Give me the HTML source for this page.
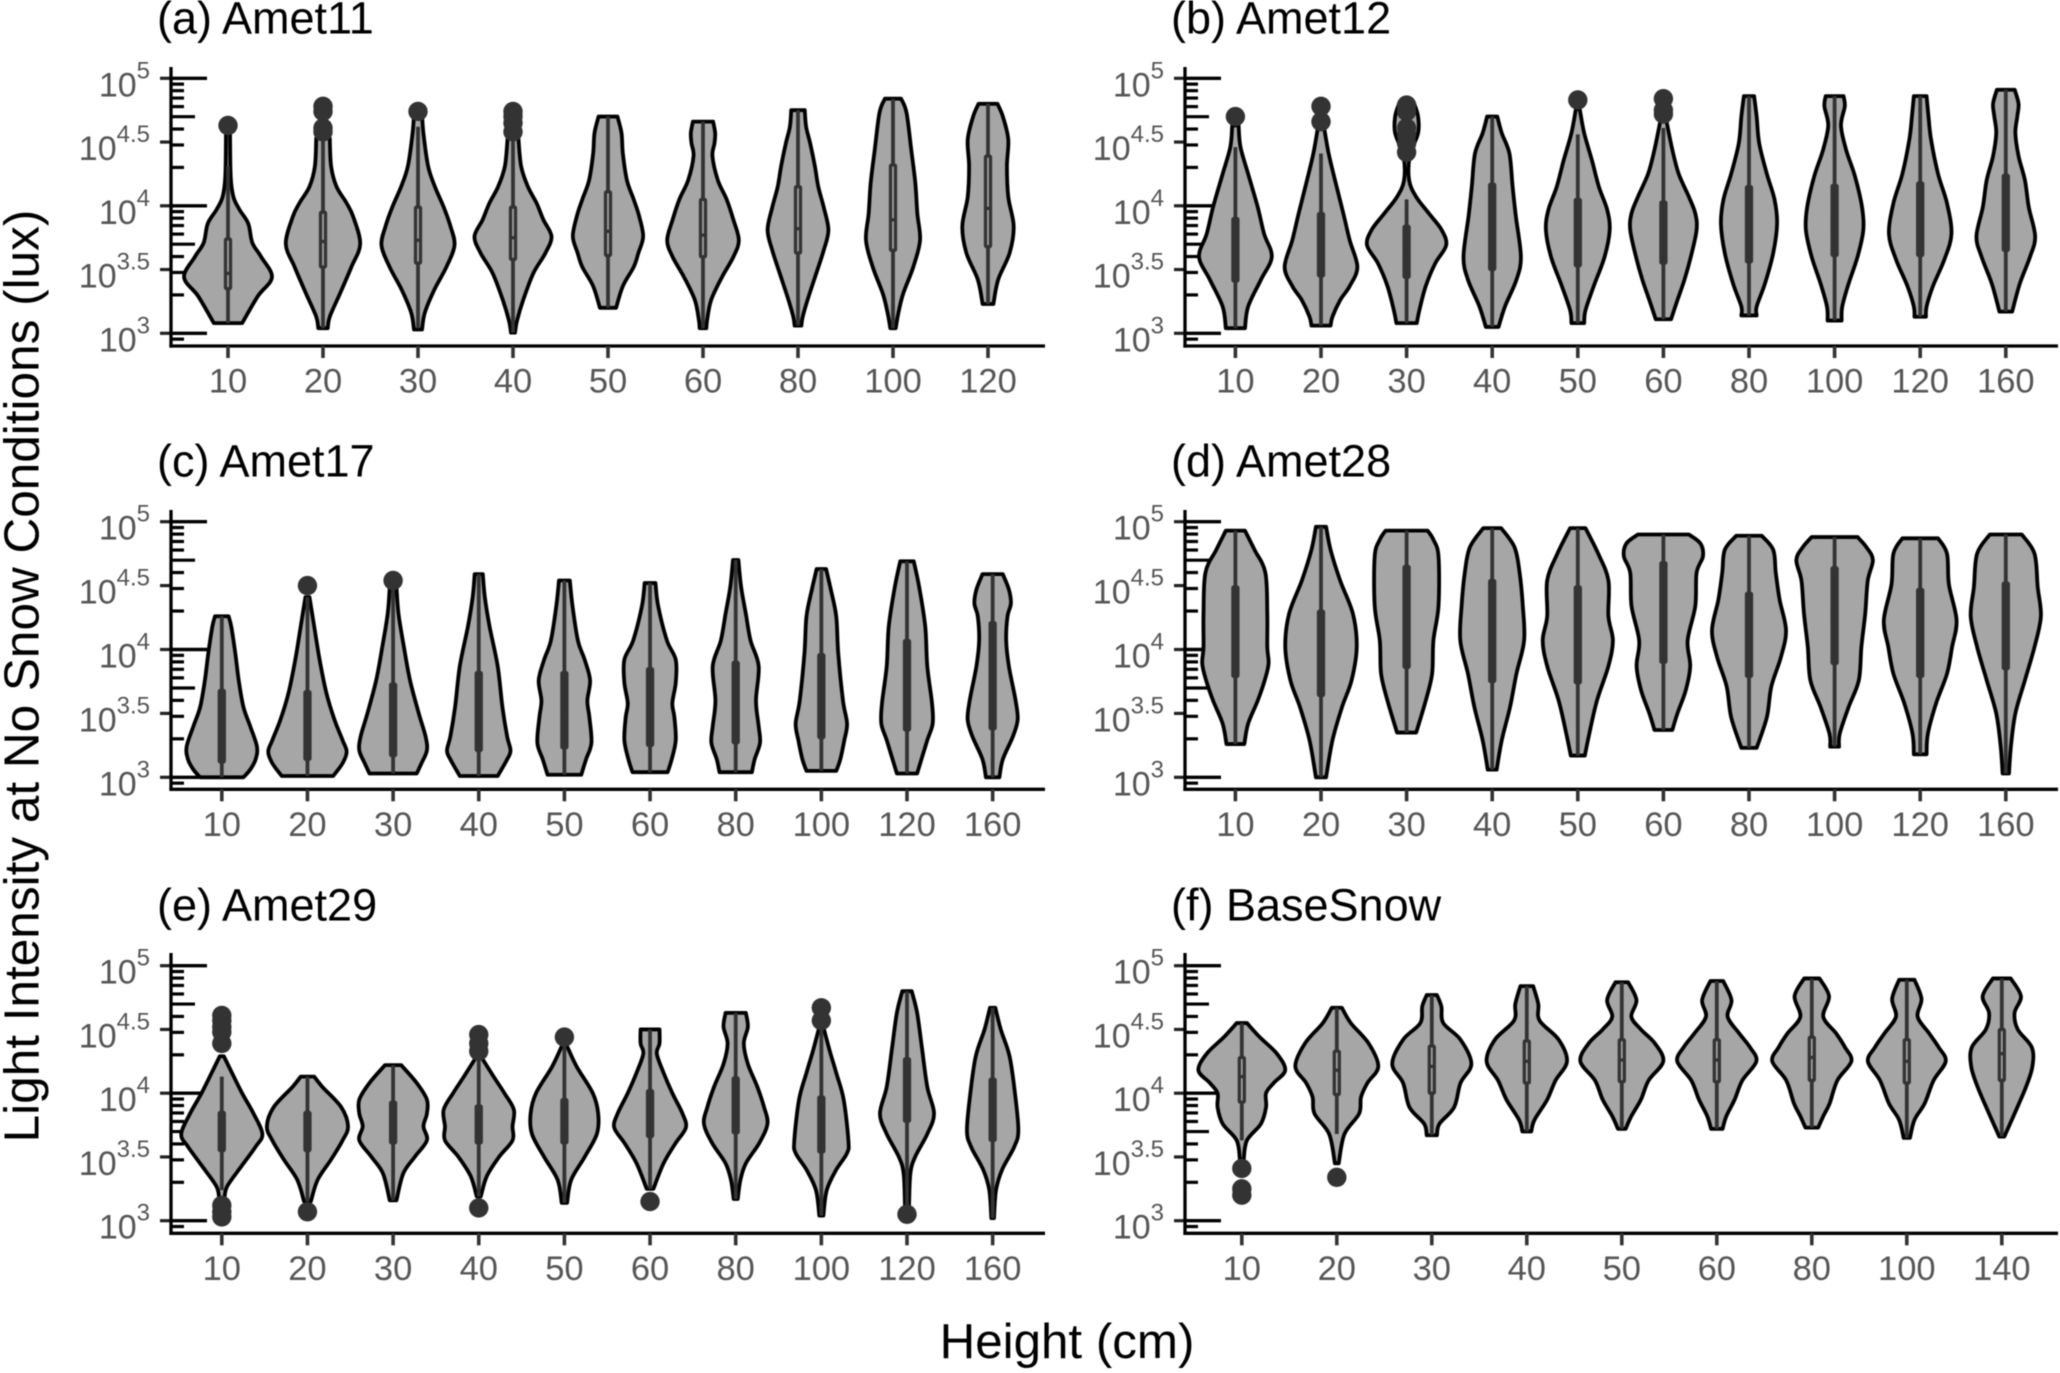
<!DOCTYPE html>
<html lang="en">
<head>
<meta charset="utf-8">
<title>Light intensity violin plots</title>
<style>
html,body{margin:0;padding:0;background:#fff;}
svg{display:block;font-family:"Liberation Sans",Arial,sans-serif;filter:blur(0.55px);}
</style>
</head>
<body>
<svg id="chart" xmlns="http://www.w3.org/2000/svg" width="2060" height="1373" viewBox="0 0 2060 1373">
  <rect x="0" y="0" width="2060" height="1373" fill="#ffffff"/>
  <text transform="translate(38.5,676) rotate(-90)" text-anchor="middle" font-size="49.5" fill="#000">Light Intensity at No Snow Conditions (lux)</text>
  <text x="1067" y="1358" text-anchor="middle" font-size="49.3" fill="#000">Height (cm)</text>
</svg>
<script>
// Panel (a) Amet11
const aHeights=["10","20","30","40","50","60","80","100","120"];
const aDensity=[
[[4.63,3],[4.57,3],[4.23,4],[4.07,8],[3.97,17],[3.86,30],[3.71,36],[3.60,49],[3.44,65],[3.29,44],[3.08,21]],
[[4.53,10],[4.31,12],[4.15,20],[4.02,35],[3.91,45],[3.70,55],[3.52,42],[3.31,25],[3.13,10],[3.04,7]],
[[4.72,6],[4.57,8],[4.31,15],[4.15,25],[3.99,38],[3.84,48],[3.69,54],[3.52,42],[3.34,24],[3.16,10],[3.03,6]],
[[4.53,8],[4.31,12],[4.15,22],[4.02,35],[3.89,45],[3.76,57],[3.63,48],[3.47,30],[3.26,15],[3.10,6],[3.005,3]],
[[4.70,14],[4.57,20],[4.41,22],[4.20,28],[4.05,38],[3.92,46],[3.76,52],[3.63,45],[3.52,38],[3.37,22],[3.20,12]],
[[4.66,15],[4.57,18],[4.49,17],[4.39,14],[4.20,22],[4.05,35],[3.89,45],[3.73,53],[3.60,45],[3.44,28],[3.26,12],[3.10,6],[3.04,5]],
[[4.75,10],[4.62,12],[4.49,18],[4.31,25],[4.15,30],[3.99,38],[3.81,45],[3.65,38],[3.47,27],[3.26,14],[3.13,7],[3.06,5]],
[[4.84,12],[4.73,20],[4.44,27],[4.18,33],[3.94,36],[3.73,40],[3.52,30],[3.31,15],[3.16,8],[3.04,4]],
[[4.80,14],[4.70,22],[4.52,30],[4.31,28],[4.07,30],[3.84,38],[3.63,32],[3.42,15],[3.23,8]]
];
const aBoxes=[
[3.08,3.35,3.47,3.74,4.31],[3.04,3.52,3.72,3.95,4.53],[3.04,3.55,3.73,3.99,4.62],
[3.005,3.58,3.75,3.99,4.53],[3.20,3.61,3.80,4.11,4.70],[3.04,3.60,3.77,4.05,4.66],
[3.06,3.63,3.82,4.15,4.75],[3.04,3.65,3.89,4.32,4.84],[3.23,3.68,3.98,4.39,4.80]
];
const aOutliers=[[4.63],[4.78,4.74,4.61,4.58],[4.74],[4.74,4.70,4.65,4.58],[],[],[],[],[]];

// Panel (b) Amet12
const bHeights=["10","20","30","40","50","60","80","100","120","160"];
const bDensity=[
[[4.63,5],[4.46,8],[4.25,20],[3.99,35],[3.78,45],[3.60,57],[3.42,40],[3.21,20],[3.04,15]],
[[4.61,5],[4.41,12],[4.20,22],[3.94,35],[3.73,45],[3.52,57],[3.37,45],[3.26,30],[3.13,18],[3.06,15]],
[[4.80,12],[4.70,18],[4.57,18],[4.39,5],[4.20,4],[4.07,15],[3.94,35],[3.81,55],[3.69,62],[3.55,45],[3.37,30],[3.18,20],[3.08,16]],
[[4.70,8],[4.57,15],[4.41,27],[4.15,32],[3.92,37],[3.60,45],[3.42,38],[3.21,20],[3.05,10]],
[[4.76,3],[4.57,10],[4.36,22],[4.15,33],[3.97,46],[3.81,50],[3.60,42],[3.37,25],[3.18,12],[3.08,10]],
[[4.66,5],[4.44,14],[4.25,24],[4.07,40],[3.94,50],[3.81,52],[3.60,43],[3.42,33],[3.26,22],[3.11,12]],
[[4.86,8],[4.70,12],[4.49,16],[4.25,28],[4.05,40],[3.86,44],[3.63,38],[3.39,25],[3.21,12],[3.14,12]],
[[4.86,14],[4.78,16],[4.63,10],[4.44,18],[4.23,32],[3.99,43],[3.81,45],[3.60,36],[3.39,22],[3.21,12],[3.10,11]],
[[4.86,10],[4.70,13],[4.52,17],[4.25,28],[4.02,42],[3.78,49],[3.58,38],[3.37,20],[3.21,10],[3.13,9]],
[[4.91,14],[4.80,20],[4.70,18],[4.57,15],[4.39,20],[4.20,30],[3.99,36],[3.76,46],[3.60,38],[3.39,22],[3.17,10]]
];
const bBoxes=[
[3.04,3.41,3.65,3.90,4.46],[3.06,3.45,3.65,3.94,4.41],[3.08,3.44,3.63,3.84,4.05],
[3.05,3.50,3.81,4.17,4.70],[3.08,3.53,3.78,4.05,4.56],[3.11,3.55,3.78,4.03,4.61],
[3.14,3.56,3.84,4.15,4.86],[3.10,3.61,3.86,4.16,4.86],[3.13,3.61,3.89,4.18,4.86],[3.17,3.65,3.92,4.24,4.91]
];
const bOutliers=[[4.70],[4.78,4.66],[4.79,4.74,4.61,4.56,4.49,4.42],[],[4.83],[4.84,4.75,4.72],[],[],[],[]];

// Panel (c) Amet17
const cHeights=["10","20","30","40","50","60","80","100","120","160"];
const cDensity=[
[[4.26,10],[4.18,14],[3.97,20],[3.76,25],[3.55,32],[3.40,42],[3.24,52],[3.14,50],[3.06,42],[3.00,32]],
[[4.41,3],[4.18,10],[3.92,18],[3.66,28],[3.45,40],[3.29,52],[3.20,58],[3.11,52],[3.01,38]],
[[4.49,5],[4.28,8],[4.02,16],[3.76,25],[3.50,38],[3.32,48],[3.21,50],[3.11,42],[3.03,35]],
[[4.59,6],[4.41,9],[4.18,16],[3.87,28],[3.55,35],[3.32,42],[3.21,47],[3.14,42],[3.01,28]],
[[4.54,8],[4.34,12],[4.07,20],[3.92,30],[3.76,38],[3.60,34],[3.47,37],[3.27,40],[3.14,32],[3.02,25]],
[[4.52,8],[4.34,12],[4.07,25],[3.92,38],[3.74,38],[3.58,33],[3.47,36],[3.29,38],[3.14,32],[3.04,26]],
[[4.70,4],[4.49,8],[4.28,15],[4.07,22],[3.87,34],[3.60,30],[3.40,34],[3.27,36],[3.14,28],[3.04,24]],
[[4.63,7],[4.47,14],[4.26,22],[3.97,25],[3.60,32],[3.42,38],[3.29,34],[3.14,28],[3.05,22]],
[[4.69,10],[4.49,18],[4.18,27],[3.87,30],[3.58,37],[3.42,38],[3.29,30],[3.03,15]],
[[4.59,15],[4.47,24],[4.36,27],[4.26,22],[4.07,20],[3.87,24],[3.60,34],[3.45,37],[3.32,30],[3.14,15],[3.00,10]]
];
const cBoxes=[
[3.00,3.12,3.29,3.68,4.26],[3.01,3.14,3.32,3.67,4.41],[3.03,3.17,3.40,3.73,4.49],
[3.01,3.21,3.42,3.82,4.59],[3.02,3.23,3.50,3.82,4.54],[3.04,3.25,3.55,3.85,4.52],
[3.04,3.27,3.58,3.90,4.70],[3.05,3.31,3.60,3.96,4.63],[3.03,3.37,3.68,4.07,4.69],[3.00,3.38,3.81,4.21,4.59]
];
const cOutliers=[[],[4.50],[4.54],[],[],[],[],[],[],[]];

// Panel (d) Amet28
const dHeights=["10","20","30","40","50","60","80","100","120","160"];
const dDensity=[
[[4.93,15],[4.78,30],[4.60,47],[4.28,50],[4.02,50],[3.89,52],[3.76,46],[3.60,35],[3.42,20],[3.26,14]],
[[4.96,8],[4.78,15],[4.54,30],[4.28,50],[4.02,56],[3.76,48],[3.55,33],[3.29,18],[3.00,8]],
[[4.93,33],[4.86,42],[4.73,50],[4.34,50],[4.07,42],[3.81,40],[3.60,30],[3.35,15]],
[[4.95,14],[4.80,35],[4.60,43],[4.34,48],[4.07,50],[3.81,38],[3.55,28],[3.29,15],[3.06,7]],
[[4.95,12],[4.75,32],[4.54,48],[4.26,48],[4.07,55],[3.87,48],[3.60,30],[3.34,18],[3.17,11]],
[[4.90,40],[4.83,58],[4.73,62],[4.60,52],[4.34,50],[4.07,38],[3.87,42],[3.68,35],[3.50,22],[3.37,14]],
[[4.89,20],[4.78,38],[4.60,42],[4.39,48],[4.15,58],[3.94,50],[3.71,35],[3.47,28],[3.23,12]],
[[4.88,36],[4.80,50],[4.70,60],[4.54,52],[4.28,48],[4.02,42],[3.76,38],[3.55,22],[3.34,8],[3.24,7]],
[[4.87,28],[4.75,42],[4.51,45],[4.23,57],[4.02,50],[3.81,42],[3.58,25],[3.34,12],[3.18,10]],
[[4.90,25],[4.75,45],[4.49,50],[4.26,55],[4.02,45],[3.76,30],[3.50,15],[3.24,8],[3.03,5]]
];
const dBoxes=[
[3.26,3.79,4.10,4.49,4.93],[3.00,3.64,3.97,4.30,4.96],[3.35,3.86,4.26,4.65,4.93],
[3.06,3.75,4.10,4.54,4.95],[3.17,3.74,4.07,4.49,4.95],[3.37,3.90,4.28,4.68,4.90],
[3.23,3.79,4.10,4.44,4.89],[3.24,3.89,4.26,4.64,4.88],[3.18,3.79,4.07,4.47,4.87],[3.03,3.85,4.18,4.52,4.90]
];
const dOutliers=[[],[],[],[],[],[],[],[],[],[]];

// Panel (e) Amet29
const eHeights=["10","20","30","40","50","60","80","100","120","160"];
const eDensity=[
[[4.29,3],[4.16,15],[4.00,30],[3.84,47],[3.68,60],[3.58,50],[3.42,28],[3.27,8],[3.18,4]],
[[4.13,10],[4.05,22],[3.89,50],[3.74,60],[3.63,52],[3.48,35],[3.32,15],[3.15,5]],
[[4.22,12],[4.08,35],[3.95,50],[3.84,50],[3.74,45],[3.63,50],[3.50,32],[3.37,15],[3.16,5]],
[[4.29,3],[4.13,22],[4.00,38],[3.87,52],[3.74,50],[3.63,50],[3.50,30],[3.35,12],[3.19,3]],
[[4.38,3],[4.21,18],[4.00,42],[3.84,50],[3.68,48],[3.50,30],[3.32,10],[3.14,4]],
[[4.50,14],[4.39,14],[4.31,10],[4.16,20],[4.00,33],[3.84,48],[3.73,53],[3.61,38],[3.45,20],[3.25,5]],
[[4.63,15],[4.52,18],[4.39,12],[4.23,18],[4.05,32],[3.89,42],[3.76,47],[3.61,35],[3.45,15],[3.32,7],[3.17,3]],
[[4.52,3],[4.34,12],[4.16,22],[3.95,33],[3.63,40],[3.53,38],[3.40,22],[3.24,8],[3.04,3]],
[[4.80,7],[4.63,15],[4.36,22],[4.05,30],[3.84,40],[3.68,30],[3.50,12],[3.37,5],[3.12,3]],
[[4.67,4],[4.50,12],[4.29,25],[4.00,33],[3.71,38],[3.58,32],[3.40,14],[3.24,5],[3.02,2]]
];
const eBoxes=[
[3.24,3.55,3.68,3.85,4.13],[3.15,3.55,3.71,3.85,4.13],[3.16,3.61,3.76,3.93,4.22],
[3.19,3.61,3.76,3.90,4.29],[3.14,3.61,3.76,3.95,4.38],[3.25,3.66,3.82,4.02,4.50],
[3.17,3.69,3.89,4.12,4.63],[3.04,3.54,3.79,3.97,4.52],[3.12,3.78,4.02,4.27,4.80],[3.02,3.63,3.87,4.11,4.67]
];
const eOutliers=[[4.61,4.57,4.52,4.48,4.39,3.12,3.07,3.03],[3.07],[],[4.46,4.39,4.33,3.10],[4.44],[3.15],[],[4.67,4.57],[3.05],[]];

// Panel (f) BaseSnow
const fHeights=["10","20","30","40","50","60","80","100","140"];
const fDensity=[
[[4.55,8],[4.44,28],[4.31,55],[4.18,68],[4.08,50],[4.00,38],[3.89,38],[3.76,30],[3.63,8],[3.48,3]],
[[4.67,8],[4.55,22],[4.39,50],[4.21,65],[4.08,48],[3.97,38],[3.84,35],[3.68,12],[3.45,3]],
[[4.77,8],[4.68,15],[4.55,18],[4.42,45],[4.23,62],[4.08,45],[3.89,35],[3.76,12],[3.67,8]],
[[4.84,10],[4.70,18],[4.57,20],[4.42,50],[4.25,63],[4.10,45],[3.95,32],[3.79,12],[3.70,7]],
[[4.87,10],[4.73,23],[4.60,15],[4.50,30],[4.39,52],[4.25,65],[4.10,42],[3.95,30],[3.82,15],[3.72,6]],
[[4.88,10],[4.73,23],[4.60,17],[4.47,35],[4.36,52],[4.25,62],[4.10,40],[3.95,28],[3.82,15],[3.72,9]],
[[4.90,12],[4.76,27],[4.60,18],[4.47,38],[4.36,52],[4.25,62],[4.10,40],[3.92,28],[3.82,18],[3.73,10]],
[[4.89,12],[4.74,23],[4.60,17],[4.47,35],[4.36,50],[4.25,61],[4.10,42],[3.92,28],[3.79,12],[3.65,5]],
[[4.90,14],[4.76,30],[4.63,20],[4.50,25],[4.36,47],[4.21,48],[4.05,38],[3.84,20],[3.66,4]]
];
const fBoxes=[
[3.63,3.93,4.13,4.28,4.55],[3.68,3.99,4.18,4.33,4.67],[3.67,4.00,4.21,4.37,4.77],
[3.70,4.08,4.25,4.41,4.84],[3.72,4.09,4.26,4.42,4.87],[3.72,4.09,4.26,4.42,4.88],
[3.73,4.10,4.28,4.44,4.90],[3.65,4.08,4.25,4.42,4.89],[3.66,4.10,4.31,4.50,4.90]
];
const fOutliers=[[3.41,3.25,3.20],[3.34],[],[],[],[],[],[],[]];

// Shared axis values
const yLabelLogs=[3,3.5,4,4.5,5];
const yLabelText=["3","3.5","4","4.5","5"];
const logTickMultipliers=[2,3,4,5,6,7,8,9];
const logTickDecades=[2,3,4];

const NS='http://www.w3.org/2000/svg';
const root=document.getElementById('chart');
const GREY='#a6a6a6',DARK='#333333',LABEL='#565656';

const panels=[
 {title:'(a) Amet11',id:'a',h:aHeights,d:aDensity,b:aBoxes,o:aOutliers,open:true,
  left:171,right:1045,top:67,axisY:346,y5:78.3,y3:333.3,x0:228,dx:95,k:0.676},
 {title:'(b) Amet12',id:'b',h:bHeights,d:bDensity,b:bBoxes,o:bOutliers,open:false,
  left:1185,right:2058,top:67,axisY:346,y5:78.3,y3:333.3,x0:1235.4,dx:85.6,k:0.638},
 {title:'(c) Amet17',id:'c',h:cHeights,d:cDensity,b:cBoxes,o:cOutliers,open:false,
  left:171,right:1045,top:510,axisY:789.3,y5:521.7,y3:777.3,x0:221.8,dx:85.65,k:0.676},
 {title:'(d) Amet28',id:'d',h:dHeights,d:dDensity,b:dBoxes,o:dOutliers,open:false,
  left:1185,right:2058,top:510,axisY:789.3,y5:521.7,y3:777.3,x0:1235.4,dx:85.6,k:0.638},
 {title:'(e) Amet29',id:'e',h:eHeights,d:eDensity,b:eBoxes,o:eOutliers,open:false,
  left:171,right:1045,top:953,axisY:1233.3,y5:965.7,y3:1220.7,x0:221.8,dx:85.65,k:0.676},
 {title:'(f) BaseSnow',id:'f',h:fHeights,d:fDensity,b:fBoxes,o:fOutliers,open:true,
  left:1185,right:2058,top:953,axisY:1233.3,y5:965.7,y3:1220.7,x0:1241.8,dx:95,k:0.638}
];

function make(tag,attrs,parent){
  const el=document.createElementNS(NS,tag);
  for(const key in attrs){el.setAttribute(key,attrs[key]);}
  parent.appendChild(el);
  return el;
}

function violinPath(profile,cx,yScale,k){
  const right=profile.map(p=>[cx+Math.max(p[1],0)*k,yScale(p[0])]);
  const left=profile.map(p=>[cx-Math.max(p[1],0)*k,yScale(p[0])]).reverse();
  function curve(pts,first){
    let s=(first?'M':'L')+pts[0][0].toFixed(2)+' '+pts[0][1].toFixed(2);
    for(let i=0;i<pts.length-1;i++){
      const p0=pts[Math.max(i-1,0)],p1=pts[i],p2=pts[i+1],p3=pts[Math.min(i+2,pts.length-1)];
      const c1x=p1[0]+(p2[0]-p0[0])/6,c1y=p1[1]+(p2[1]-p0[1])/6;
      const c2x=p2[0]-(p3[0]-p1[0])/6,c2y=p2[1]-(p3[1]-p1[1])/6;
      s+=' C'+c1x.toFixed(2)+' '+c1y.toFixed(2)+' '+c2x.toFixed(2)+' '+c2y.toFixed(2)+' '+p2[0].toFixed(2)+' '+p2[1].toFixed(2);
    }
    return s;
  }
  return curve(right,true)+' '+curve(left,false)+' Z';
}

panels.forEach(function(p){
  const yScale=function(v){return p.y5+(5-v)*(p.y3-p.y5)/2;};
  const xScale=function(i){return p.x0+p.dx*i;};

  const g=make('g',{},root);
  
  

  const title=make('text',{x:p.left-14,y:p.y5-45,'font-size':45,fill:'#000'},g);
  
  
  title.textContent=p.title;

  // log ticks inside the axis
  logTickDecades.forEach(function(dec){
    logTickMultipliers.forEach(function(m){
      const v=dec+Math.log10(m);
      if(yScale(v)>p.axisY-2) return;
      const len=(m===5)?24:13;
      const t=make('line',{x1:p.left,x2:p.left+len,y1:yScale(v),y2:yScale(v),stroke:'#000','stroke-width':3.2},g);
      
      
    });
  });
  [3,4,5].forEach(function(v){
    const t=make('line',{x1:p.left,x2:p.left+36,y1:yScale(v),y2:yScale(v),stroke:'#000','stroke-width':3.4},g);
    
    
  });

  // y axis labels and outward ticks
  yLabelLogs.forEach(function(v,i){
    const t=make('line',{x1:p.left-11,x2:p.left,y1:yScale(v),y2:yScale(v),stroke:'#222','stroke-width':3.2},g);
    
    
    const lab=make('text',{x:p.left-21,y:yScale(v)+18,'text-anchor':'end','font-size':34,fill:LABEL},g);
    
    
    const base=make('tspan',{},lab);
    base.textContent='10';
    const sup=make('tspan',{dy:-18,'font-size':24},lab);
    sup.textContent=yLabelText[i];
  });

  // axes
  const yAxis=make('line',{x1:p.left,x2:p.left,y1:p.top,y2:p.axisY+1.6,stroke:'#000','stroke-width':3.3},g);
  
  
  const xAxis=make('line',{x1:p.left-1.6,x2:p.right,y1:p.axisY,y2:p.axisY,stroke:'#000','stroke-width':3.3},g);
  
  

  p.h.forEach(function(label,i){
    const cx=xScale(i);
    const tick=make('line',{x1:cx,x2:cx,y1:p.axisY,y2:p.axisY+12,stroke:DARK,'stroke-width':3.6},g);
    
    
    const lab=make('text',{x:cx,y:p.axisY+46.7,'text-anchor':'middle','font-size':34.5,fill:LABEL},g);
    
    
    lab.textContent=label;

    const v=make('path',{d:violinPath(p.d[i],cx,yScale,p.k),fill:GREY,stroke:'#000','stroke-width':3.8,'stroke-linejoin':'round'},g);
    
    

    const box=p.b[i];
    const w=make('line',{x1:cx,x2:cx,y1:yScale(box[4]),y2:yScale(box[0]),stroke:DARK,'stroke-width':3.8},g);
    
    
    const r=make('rect',{x:cx-2.5,y:yScale(box[3]),width:5,height:yScale(box[1])-yScale(box[3]),rx:1,fill:p.open?GREY:DARK,stroke:DARK,'stroke-width':3.3,'stroke-linejoin':'round'},g);
    
    
    const m=make('line',{x1:cx-2.5,x2:cx+2.5,y1:yScale(box[2]),y2:yScale(box[2]),stroke:DARK,'stroke-width':3.3},g);
    
    

    p.o[i].forEach(function(val){
      const c=make('circle',{cx:cx,cy:yScale(val),r:9.7,fill:DARK},g);
      
      
    });
  });
});
</script>
</body>
</html>
